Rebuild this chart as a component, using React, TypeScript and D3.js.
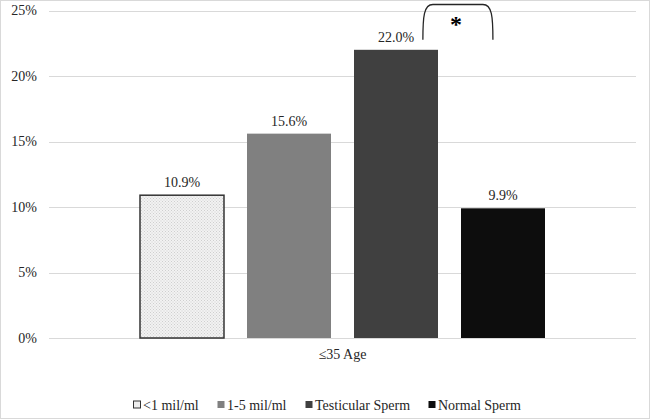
import React from "react";
import * as d3 from "d3";

const categories = ["≤35 Age"];
const seriesNames = ["<1 mil/ml", "1-5 mil/ml", "Testicular Sperm", "Normal Sperm"];
const seriesValues = [10.9, 15.6, 22.0, 9.9];
const seriesColors = ["url(#dots)", "#808080", "#404040", "#0d0d0d"];
const yTicks = [0, 5, 10, 15, 20, 25];

const W = 650;
const H = 419;
const margin = { left: 49, right: 14, top: 10.5, bottom: 81 };
const FONT = "Liberation Serif, DejaVu Serif, serif";
const TXT = { fontFamily: FONT, fontSize: "14px" } as const;

export default function App() {
  const x0 = d3
    .scaleBand<string>()
    .domain(categories)
    .range([margin.left, W - margin.right]);
  const groupWidth = 405;
  const x1 = d3
    .scaleBand<string>()
    .domain(seriesNames)
    .range([0, groupWidth])
    .paddingInner(0.215)
    .paddingOuter(0);
  const y = d3
    .scaleLinear()
    .domain([0, 25])
    .range([H - margin.bottom, margin.top]);

  const cat = categories[0];
  const gx = (x0(cat) ?? 0) + x0.bandwidth() / 2 - groupWidth / 2;

  // bracket between Testicular Sperm and Normal Sperm
  const b3 = gx + (x1(seriesNames[2]) ?? 0);
  const b4 = gx + (x1(seriesNames[3]) ?? 0);
  const bl = b3 + x1.bandwidth() * 0.82;
  const br = b4 + x1.bandwidth() * 0.38;
  const bBottom = y(seriesValues[2]) - 10;
  const bTop = y(25) - 6;
  const bracket = `M${bl},${bBottom} C${bl},${bTop + 12} ${bl + 1},${bTop} ${bl + 10},${bTop} L${br - 10},${bTop} C${br - 1},${bTop} ${br},${bTop + 12} ${br},${bBottom}`;

  const legendX = [133, 217, 305, 428];
  const legendY = 405;

  return (
    <div style={{ position: "fixed", left: 0, top: 0 }}>
      <svg width={W} height={H} style={{ display: "block", background: "#fff" }}>
        <defs>
          <pattern id="dots" width="3" height="3" patternUnits="userSpaceOnUse">
            <rect width="3" height="3" fill="#f2f2f2" />
            <rect x="0" y="0" width="1" height="1" fill="#cfcfcf" />
            <rect x="1.5" y="1.5" width="1" height="1" fill="#cfcfcf" />
          </pattern>
        </defs>
        <rect x={0.5} y={0.5} width={W - 1} height={H - 1} fill="#fff" stroke="#d9d9d9" />
        {yTicks.map((t) => (
          <g key={t}>
            <line
              x1={margin.left}
              x2={W - margin.right}
              y1={Math.round(y(t)) + 0.5}
              y2={Math.round(y(t)) + 0.5}
              stroke="#d9d9d9"
              strokeWidth={1}
            />
            <text
              x={37}
              y={y(t)}
              dy="0.35em"
              textAnchor="end"
              style={TXT}
              fill="#262626"
            >
              {t}%
            </text>
          </g>
        ))}
        {seriesNames.map((s, i) => {
          const bx = gx + (x1(s) ?? 0);
          const by = y(seriesValues[i]);
          const bh = y(0) - by;
          return (
            <g key={s}>
              <rect
                x={bx}
                y={by}
                width={x1.bandwidth()}
                height={bh}
                fill={seriesColors[i]}
                stroke={i === 0 ? "#333" : "none"}
                strokeWidth={i === 0 ? 1.5 : 0}
              />
              <text
                x={bx + x1.bandwidth() / 2}
                y={by - 8}
                textAnchor="middle"
                style={TXT}
                fill="#262626"
              >
                {seriesValues[i].toFixed(1)}%
              </text>
            </g>
          );
        })}
        <text
          x={(x0(cat) ?? 0) + x0.bandwidth() / 2}
          y={y(0) + 21}
          textAnchor="middle"
          style={TXT}
          fill="#262626"
        >
          {cat}
        </text>
        <path d={bracket} fill="none" stroke="#262626" strokeWidth={1.3} />
        <text
          x={(bl + br) / 2 - 2}
          y={bTop + 27}
          textAnchor="middle"
          style={{ fontFamily: FONT, fontSize: "24px", fontWeight: "bold" }}
          fill="#000"
        >
          *
        </text>
        {seriesNames.map((s, i) => (
          <g key={s}>
            <rect
              x={legendX[i] + 0.5}
              y={legendY - 4}
              width={7}
              height={7}
              fill={i === 0 ? "#eeeeee" : seriesColors[i]}
              stroke={i === 0 ? "#333" : "none"}
              strokeWidth={1}
            />
            <text
              x={legendX[i] + 10}
              y={legendY}
              dy="0.35em"
              style={TXT}
              fill="#262626"
            >
              {s}
            </text>
          </g>
        ))}
      </svg>
    </div>
  );
}
